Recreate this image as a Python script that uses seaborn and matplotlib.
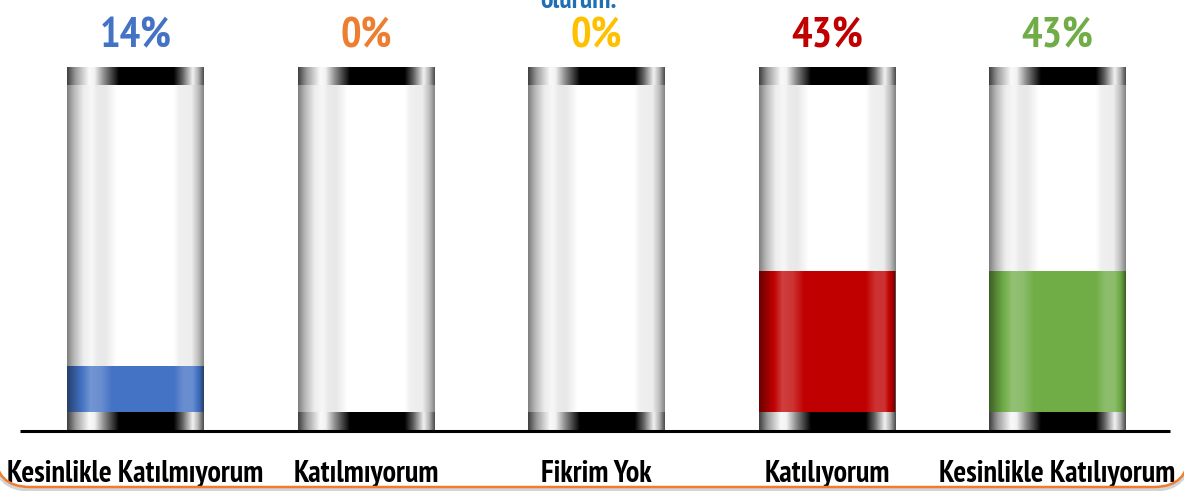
import numpy as np
import pandas as pd
import matplotlib
matplotlib.use("Agg")
import matplotlib.pyplot as plt
import seaborn as sns
from matplotlib import font_manager
from matplotlib.font_manager import FontProperties
from matplotlib.patches import PathPatch
from matplotlib.path import Path

# ---- data ----
categories = ["Kesinlikle Katılmıyorum", "Katılmıyorum", "Fikrim Yok", "Katılıyorum", "Kesinlikle Katılıyorum"]
values = [14, 0, 0, 43, 43]
labels = ["14%", "0%", "0%", "43%", "43%"]
colors = ["#4472C4", "#ED7D31", "#FFC000", "#C00000", "#70AD47"]
title_fragment = "olurum."

sns.set_theme(style="white")
plt.rcParams["font.family"] = ["DejaVu Sans"]

# look for a narrow / condensed bold face
def is_bold(f):
    w = f.weight
    if isinstance(w, str):
        return w in ("bold", "heavy", "extra bold", "black", "demibold", "semibold")
    return w >= 600

cands = [f for f in font_manager.fontManager.ttflist
         if ("Narrow" in f.name or "Condensed" in f.name or "Condensed" in f.fname
             or f.stretch in ("condensed", "semi-condensed", "extra-condensed", "ultra-condensed"))
         and is_bold(f) and f.style == "normal"]
cands.sort(key=lambda f: (0 if "Narrow" in f.name or "Narrow" in f.fname else 1))
narrow = cands[0].fname if cands else None
narrow_is_narrow = bool(cands) and ("Narrow" in cands[0].name or "Narrow" in cands[0].fname)

def fp(size):
    if narrow:
        return FontProperties(fname=narrow, size=size)
    return FontProperties(family="DejaVu Sans", weight="bold", size=size)

scale = 1.0 if narrow_is_narrow else (0.9 if narrow else 0.82)

fig = plt.figure(figsize=(11.84, 4.91), dpi=100)
ax = fig.add_axes([0, 0, 1, 1])

df = pd.DataFrame({"cat": categories, "val": values})
W = 0.594

u = np.linspace(0, 1, 256)
glass = np.interp(u, [0, 0.05, 0.12, 0.18, 0.22, 0.28, 0.36, 0.78, 0.82, 0.91, 0.96, 1.0],
                  [0.5, 0.72, 0.93, 0.97, 0.92, 0.91, 1.0, 1.0, 0.94, 0.93, 0.75, 0.52])
glass_img = np.dstack([glass, glass, glass])
cap = np.interp(u, [0, 0.06, 0.16, 0.2, 0.27, 0.38, 0.78, 0.84, 0.92, 0.96, 1.0],
                [0.25, 0.6, 0.98, 0.95, 0.55, 0.0, 0.0, 0.35, 0.95, 0.7, 0.3])
cap_img = np.dstack([cap, cap, cap])
shade = np.interp(u, [0, 0.07, 0.17, 0.25, 0.33, 0.78, 0.85, 0.92, 0.97, 1.0],
                  [-0.45, -0.15, 0.25, 0.2, 0.0, 0.0, 0.2, 0.2, -0.1, -0.45])
ov = np.zeros((1, 256, 4))
ov[0, shade > 0, :3] = 1.0
ov[0, :, 3] = np.abs(shade)

for i in range(len(categories)):
    ax.imshow(glass_img, extent=[i - W / 2, i + W / 2, 0, 100], aspect="auto", zorder=1, interpolation="bilinear")

sns.barplot(data=df, x="cat", y="val", hue="cat", palette=colors, width=W,
            legend=False, ax=ax, zorder=2, linewidth=0, saturation=1)

for i, v in enumerate(values):
    if v > 0:
        ax.imshow(ov, extent=[i - W / 2, i + W / 2, 0, v], aspect="auto", zorder=3, interpolation="bilinear")
    ax.imshow(cap_img, extent=[i - W / 2, i + W / 2, 100, 105.5], aspect="auto", zorder=4, interpolation="bilinear")
    ax.imshow(cap_img, extent=[i - W / 2, i + W / 2, -5.5, 0], aspect="auto", zorder=4, interpolation="bilinear")
    ax.text(i, 111.6, labels[i], ha="center", va="baseline", color=colors[i],
            fontproperties=fp(31 * scale), zorder=5)
    ax.text(i, -21.4, categories[i], ha="center", va="baseline", color="black",
            fontproperties=fp(21.7 * scale), zorder=5)

ax.plot([-0.5, 4.49], [-5.8, -5.8], color="black", lw=2.2, zorder=5, solid_capstyle="butt")
ax.text(1.92, 123.5, title_fragment, ha="center", va="baseline", color="#1F6FB5",
        fontproperties=fp(20 * scale), zorder=5)

ax.set_xlim(-0.588, 4.549)
ax.set_ylim(-24.16, 126.0)
ax.axis("off")

# open frame path with rounded bottom corners (sides just outside the canvas)
def frame_path(x0, x1, y0, r, ytop):
    verts = [(x0, ytop), (x0, y0 + r), (x0, y0), (x0 + r, y0), (x1 - r, y0),
             (x1, y0), (x1, y0 + r), (x1, ytop)]
    codes = [Path.MOVETO, Path.LINETO, Path.CURVE3, Path.CURVE3, Path.LINETO,
             Path.CURVE3, Path.CURVE3, Path.LINETO]
    return Path(verts, codes)

shadow = PathPatch(frame_path(-0.05, 11.89, 0.015, 0.35, 0.6), transform=fig.dpi_scale_trans,
                   fill=False, edgecolor="#b8b8b8", lw=3, alpha=0.6, zorder=0)
frame = PathPatch(frame_path(-0.05, 11.89, 0.04, 0.35, 0.6), transform=fig.dpi_scale_trans,
                  fill=False, edgecolor="#ED7D31", lw=1.8, zorder=1)
fig.add_artist(shadow)
fig.add_artist(frame)

fig.savefig("out.png", dpi=100)
